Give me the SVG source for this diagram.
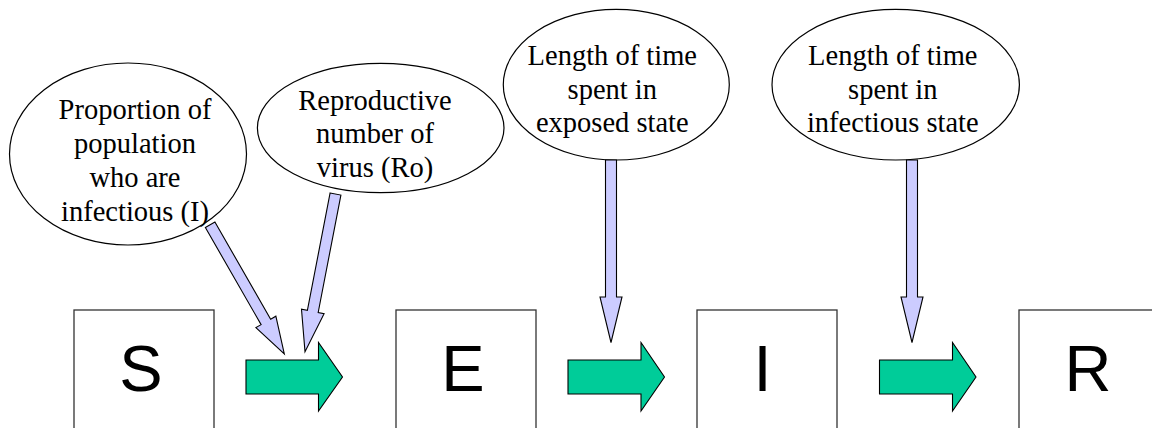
<svg xmlns="http://www.w3.org/2000/svg" width="1152" height="428" viewBox="0 0 1152 428">
  <style>
    .state rect { fill: #ffffff; stroke: #333333; stroke-width: 1.3; }
    .state text { font-family: "Liberation Sans", Arial, sans-serif; font-size: 65px; fill: #000000; text-anchor: middle; }
    .factor ellipse { fill: #ffffff; stroke: #000000; stroke-width: 1.2; }
    .factor text { font-family: "Liberation Serif", "Times New Roman", serif; font-size: 28.5px; fill: #000000; text-anchor: middle; }
    .flow { fill: #00cc99; stroke: #000000; stroke-width: 1.1; stroke-linejoin: miter; }
    .influence { fill: #ccccff; stroke: #000000; stroke-width: 1.1; stroke-linejoin: miter; }
  </style>

  <rect width="1152" height="428" fill="#ffffff"/>

  <!-- compartments -->
  <g id="node-S" class="state">
    <rect x="74" y="310" width="140" height="140"/>
    <text x="141" y="391">S</text>
  </g>
  <g id="node-E" class="state">
    <rect x="396" y="310" width="140" height="140"/>
    <text x="463" y="391">E</text>
  </g>
  <g id="node-I" class="state">
    <rect x="697" y="310" width="140" height="140"/>
    <text x="762.5" y="391">I</text>
  </g>
  <g id="node-R" class="state">
    <rect x="1019" y="310" width="150" height="140"/>
    <text x="1088" y="391">R</text>
  </g>

  <!-- parameters -->
  <g id="node-proportion" class="factor">
    <ellipse cx="128" cy="154" rx="118.5" ry="91"/>
    <text x="135" y="118.5">Proportion of</text>
    <text x="135" y="152.5">population</text>
    <text x="135" y="186.5">who are</text>
    <text x="135" y="220.5">infectious (I)</text>
  </g>
  <g id="node-reproductive" class="factor">
    <ellipse cx="380.7" cy="128" rx="123.3" ry="64.7"/>
    <text x="375" y="109.5">Reproductive</text>
    <text x="375" y="143">number of</text>
    <text x="375" y="176.5">virus (Ro)</text>
  </g>
  <g id="node-exposed-time" class="factor">
    <ellipse cx="616.3" cy="84.7" rx="113" ry="75.3"/>
    <text x="612.3" y="65">Length of time</text>
    <text x="612.3" y="98.5">spent in</text>
    <text x="612.3" y="132">exposed state</text>
  </g>
  <g id="node-infectious-time" class="factor">
    <ellipse cx="895.7" cy="84.7" rx="123.7" ry="75.3"/>
    <text x="892.8" y="65">Length of time</text>
    <text x="892.8" y="98.5">spent in</text>
    <text x="892.8" y="132">infectious state</text>
  </g>

  <!-- connectors -->
  <g id="connectors">
    <!-- transitions between compartments -->
    <polygon class="flow" points="246,360 318.5,360 318.5,342.5 342.5,377 318.5,411 318.5,394 246,394"/>
    <polygon class="flow" points="568,360 641,360 641,342.5 664.5,377 641,411 641,394 568,394"/>
    <polygon class="flow" points="879.5,360 952.5,360 952.5,342.5 976,377 952.5,411 952.5,394 879.5,394"/>

    <!-- parameter influences -->
    <g transform="translate(284.3,354) rotate(-29.85)">
      <polygon class="influence" points="-5.5,-149 5.5,-149 5.5,-37 11.5,-37 0,0 -11.5,-37 -5.5,-37"/>
    </g>
    <g transform="translate(305,351.7) rotate(10.95)">
      <polygon class="influence" points="-5.5,-160.6 5.5,-160.6 5.5,-41 11.5,-41 0,0 -11.5,-41 -5.5,-41"/>
    </g>
    <polygon class="influence" points="605.5,160 616.5,160 616.5,297 622,297 611,342.5 600,297 605.5,297"/>
    <polygon class="influence" points="906.5,160 917.5,160 917.5,297 923,297 912,342.5 901,297 906.5,297"/>
  </g>
</svg>
